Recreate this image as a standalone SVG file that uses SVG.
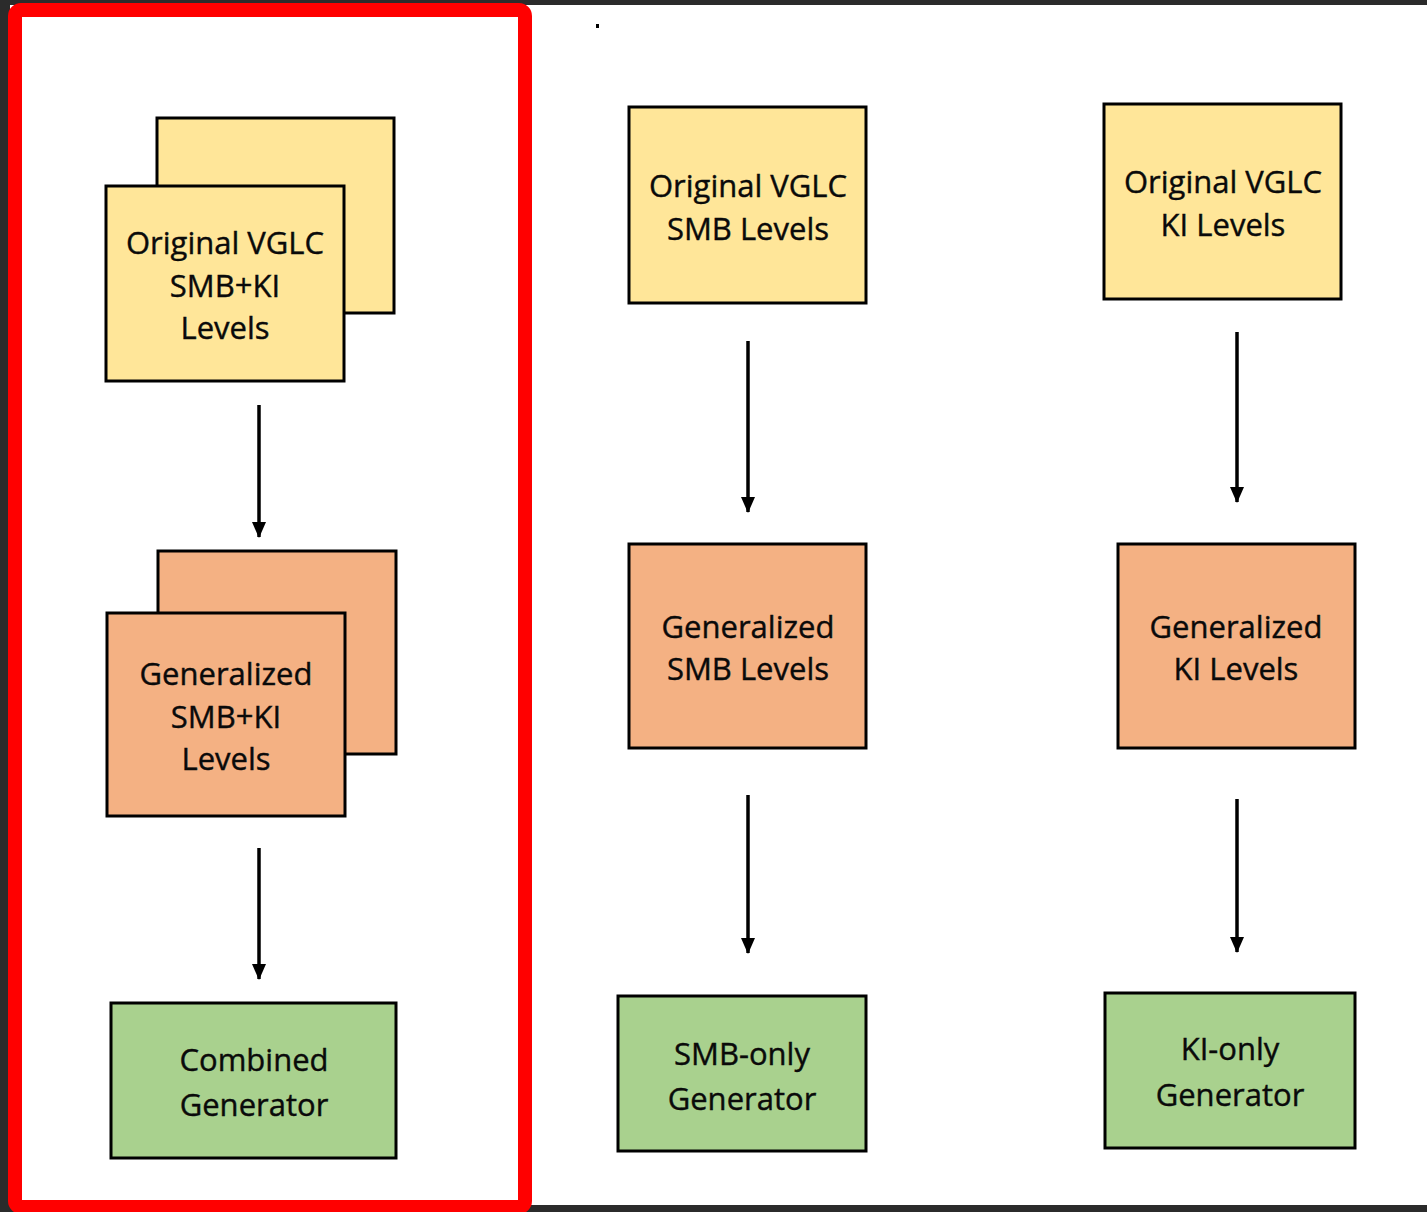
<svg xmlns="http://www.w3.org/2000/svg" width="1427" height="1212" viewBox="0 0 1427 1212">
<style>
.box{stroke:#000;stroke-width:3}
.y{fill:#FFE699}
.o{fill:#F4B183}
.g{fill:#A9D18E}
.t{font-family:"Open Sans","Noto Sans",sans-serif;font-size:31px;fill:#0a0a0a;text-anchor:middle;stroke:#0a0a0a;stroke-width:0.4}
.c{stroke:#000;stroke-width:3.5;fill:none;marker-end:url(#ah)}
</style>
<defs>
<marker id="ah" viewBox="0 0 16 14" refX="15" refY="7" markerWidth="16" markerHeight="14" markerUnits="userSpaceOnUse" orient="auto">
<path d="M0,0 L16,7 L0,14 Z" fill="#000"/>
</marker>
</defs>
<rect x="0" y="0" width="1427" height="1212" fill="#2b2b2b"/>
<rect x="10" y="5" width="1417" height="1200" fill="#fff"/>
<rect x="596" y="24" width="3" height="4" fill="#000"/>
<rect x="15" y="10" width="510" height="1197" rx="6" fill="none" stroke="#ff0000" stroke-width="14"/>

<g id="n-orig-combined">
<rect class="box y" x="157" y="118" width="237" height="195"/>
<rect class="box y" x="106" y="186" width="238" height="195"/>
<text class="t" x="225" y="254">Original VGLC</text>
<text class="t" x="225" y="297">SMB+KI</text>
<text class="t" x="225" y="339">Levels</text>
</g>
<g id="n-gen-combined">
<rect class="box o" x="158" y="551" width="238" height="203"/>
<rect class="box o" x="107" y="613" width="238" height="203"/>
<text class="t" x="226" y="685">Generalized</text>
<text class="t" x="226" y="728">SMB+KI</text>
<text class="t" x="226" y="770">Levels</text>
</g>
<g id="n-combined-gen">
<rect class="box g" x="111" y="1003" width="285" height="155"/>
<text class="t" x="254" y="1071">Combined</text>
<text class="t" x="254" y="1116">Generator</text>
</g>

<g id="n-orig-smb">
<rect class="box y" x="629" y="107" width="237" height="196"/>
<text class="t" x="748" y="197">Original VGLC</text>
<text class="t" x="748" y="240">SMB Levels</text>
</g>
<g id="n-gen-smb">
<rect class="box o" x="629" y="544" width="237" height="204"/>
<text class="t" x="748" y="638">Generalized</text>
<text class="t" x="748" y="680">SMB Levels</text>
</g>
<g id="n-smb-gen">
<rect class="box g" x="618" y="996" width="248" height="155"/>
<text class="t" x="742" y="1065">SMB-only</text>
<text class="t" x="742" y="1110">Generator</text>
</g>

<g id="n-orig-ki">
<rect class="box y" x="1104" y="104" width="237" height="195"/>
<text class="t" x="1223" y="193">Original VGLC</text>
<text class="t" x="1223" y="236">KI Levels</text>
</g>
<g id="n-gen-ki">
<rect class="box o" x="1118" y="544" width="237" height="204"/>
<text class="t" x="1236" y="638">Generalized</text>
<text class="t" x="1236" y="680">KI Levels</text>
</g>
<g id="n-ki-gen">
<rect class="box g" x="1105" y="993" width="250" height="155"/>
<text class="t" x="1230" y="1060">KI-only</text>
<text class="t" x="1230" y="1106">Generator</text>
</g>

<g id="connectors">
<line class="c" x1="259" y1="405" x2="259" y2="537"/>
<line class="c" x1="259" y1="848" x2="259" y2="979"/>
<line class="c" x1="748" y1="341" x2="748" y2="512"/>
<line class="c" x1="748" y1="795" x2="748" y2="953"/>
<line class="c" x1="1237" y1="332" x2="1237" y2="502"/>
<line class="c" x1="1237" y1="799" x2="1237" y2="952"/>
</g>
</svg>
